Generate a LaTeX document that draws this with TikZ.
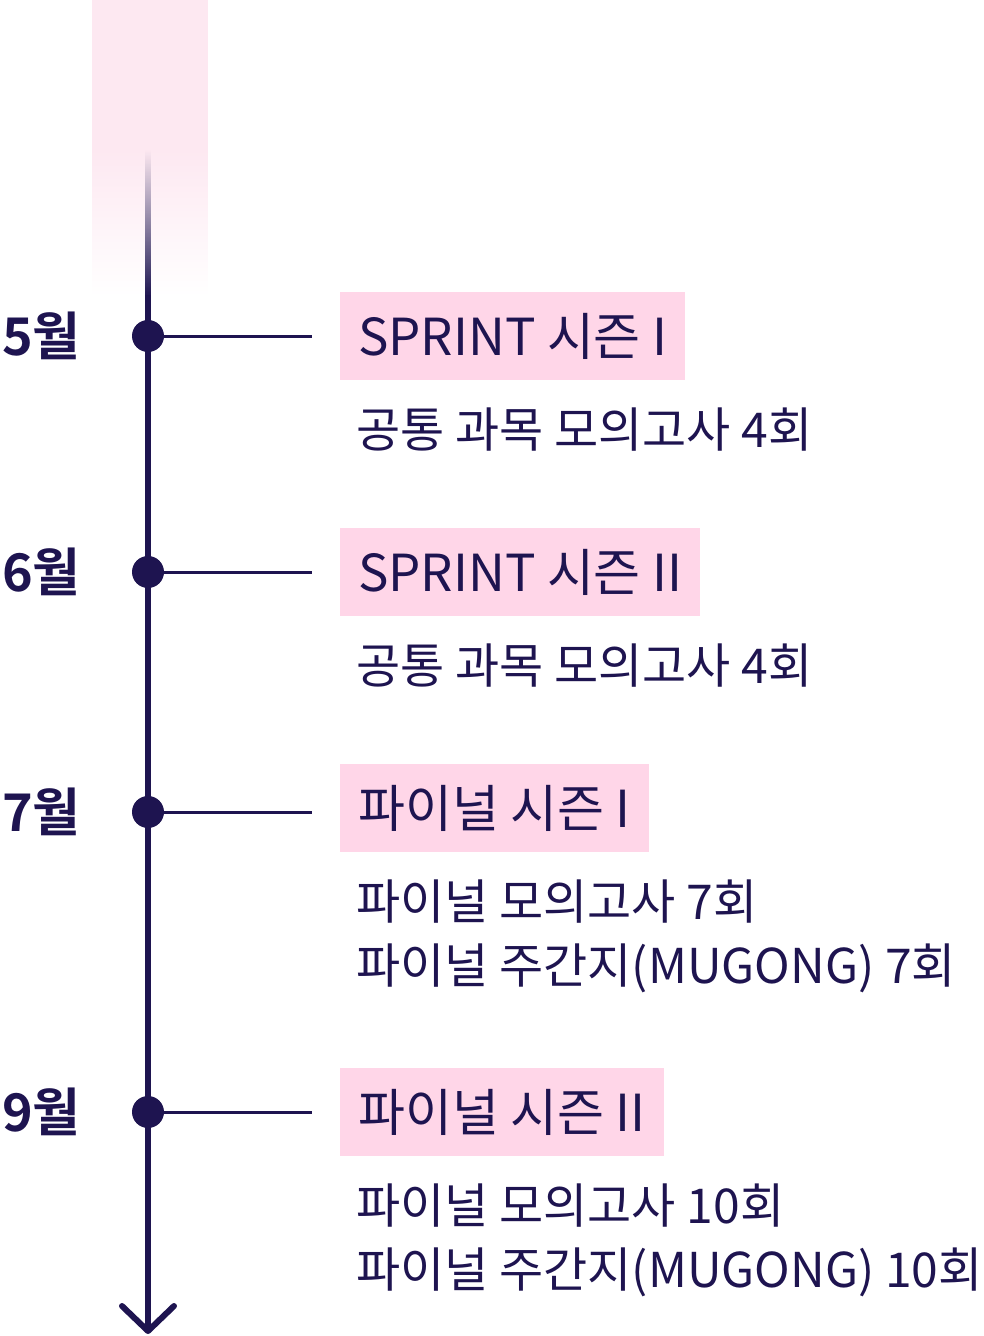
\documentclass[tikz,border=0pt]{standalone}
\usepackage{fontspec}
\usetikzlibrary{fadings}
\newfontfamily\kr{Noto Sans CJK KR}
\newfontfamily\krb{Noto Sans CJK KR Bold}
\definecolor{navy}{HTML}{1E1450}
\definecolor{pinkbg}{HTML}{FDE8F1}
\definecolor{pinkbox}{HTML}{FFD6E8}
\tikzset{
  month/.style={anchor=west,inner sep=0pt,text=navy,font=\krb\fontsize{52}{52}\selectfont},
  season/.style={anchor=west,fill=pinkbox,inner xsep=18pt,inner ysep=0pt,minimum height=88pt,text=navy,font=\kr\fontsize{51}{51}\selectfont},
  detail/.style={anchor=west,inner sep=0pt,text=navy,font=\kr\fontsize{48}{48}\selectfont},
  dot/.style={circle,fill=navy,minimum size=32pt,inner sep=0pt},
  tick/.style={draw=navy,line width=3pt},
}
\begin{document}
\begin{tikzpicture}[x=1pt,y=-1pt]
\useasboundingbox (0,0) rectangle (984,1336);
% pink band
\fill[pinkbg] (92,0) rectangle (208,150);
\fill[pinkbg,path fading=south] (92,150) rectangle (208,296);
% fading line top
\fill[navy,path fading=north] (145,150) rectangle (151,296);
% main line
\coordinate (top) at (148,295);
\coordinate (tip) at (148,1331);
\draw[navy,line width=6pt] (top) -- (tip);
\draw[navy,line width=6pt,line cap=round,line join=round] (122,1306) -- (tip) -- (174,1306);
% dots
\foreach \n/\y in {a/336,b/572,c/812,d/1112}{
  \node[dot] (\n) at (148,\y) {};
  \coordinate (\n e) at (312,\y);
  \draw[tick] (\n) -- (\n e);
}
% months
\node[month] (m5) at (2,336) {5월};
\node[month] (m6) at (2,572) {6월};
\node[month] (m7) at (2,812) {7월};
\node[month] (m9) at (2,1112) {9월};
% seasons
\node[season] (s1) at (340,336) {SPRINT 시즌 I};
\node[season] (s2) at (340,572) {SPRINT 시즌 II};
\node[season] (s3) at (340,808) {파이널 시즌 I};
\node[season] (s4) at (340,1112) {파이널 시즌 II};
% details
\node[detail] (d1) at (356,430) {공통 과목 모의고사 4회};
\node[detail] (d2) at (356,666) {공통 과목 모의고사 4회};
\node[detail] (d3a) at (356,902) {파이널 모의고사 7회};
\node[detail] (d3b) at (356,968) {파이널 주간지(MUGONG) 7회};
\node[detail] (d4a) at (356,1206) {파이널 모의고사 10회};
\node[detail] (d4b) at (356,1272) {파이널 주간지(MUGONG) 10회};
\end{tikzpicture}
\end{document}
